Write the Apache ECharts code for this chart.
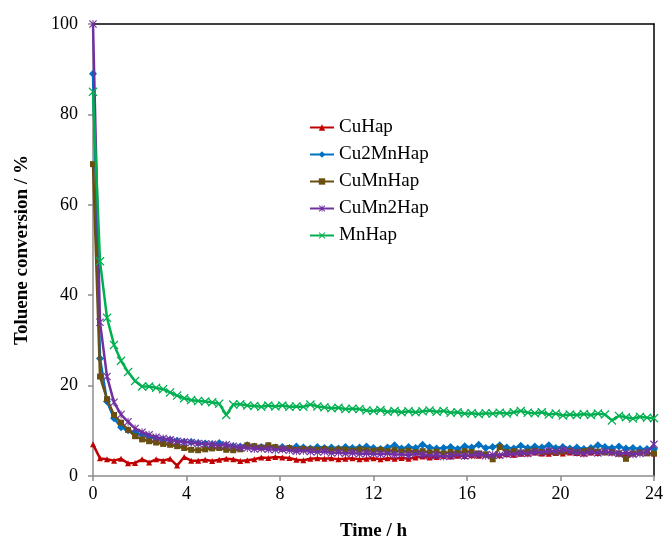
<!DOCTYPE html>
<html>
<head>
<meta charset="utf-8">
<script src="https://cdn.jsdelivr.net/npm/echarts@6/dist/echarts.min.js"></script>
<style>
  html, body { margin: 0; padding: 0; background: #ffffff; }
  #chart { width: 665px; height: 543px; }
</style>
</head>
<body>
<div id="chart"></div>
<script>
// Sampling times (h)
var hours = [
  0.0, 0.3, 0.6, 0.9, 1.2, 1.5, 1.8, 2.1, 2.4, 2.7,
  3.0, 3.3, 3.6, 3.9, 4.2, 4.5, 4.8, 5.1, 5.4, 5.7,
  6.0, 6.3, 6.6, 6.9, 7.2, 7.5, 7.8, 8.1, 8.4, 8.7,
  9.0, 9.3, 9.6, 9.9, 10.2, 10.5, 10.8, 11.1, 11.4, 11.7,
  12.0, 12.3, 12.6, 12.9, 13.2, 13.5, 13.8, 14.1, 14.4, 14.7,
  15.0, 15.3, 15.6, 15.9, 16.2, 16.5, 16.8, 17.1, 17.4, 17.7,
  18.0, 18.3, 18.6, 18.9, 19.2, 19.5, 19.8, 20.1, 20.4, 20.7,
  21.0, 21.3, 21.6, 21.9, 22.2, 22.5, 22.8, 23.1, 23.4, 23.7,
  24.0
];

// Toluene conversion (%) for each catalyst
var cuHap = [
  7.0, 3.9, 3.7, 3.4, 3.8, 2.8, 2.9, 3.7, 3.0, 3.7,
  3.4, 3.8, 2.3, 4.2, 3.4, 3.4, 3.6, 3.3, 3.6, 3.8,
  3.7, 3.3, 3.5, 3.7, 4.1, 4.0, 4.2, 4.1, 4.0, 3.6,
  3.5, 3.8, 3.9, 3.8, 3.9, 3.7, 3.8, 3.9, 3.7, 3.8,
  3.9, 3.7, 3.9, 3.8, 4.0, 3.8, 4.1, 4.3, 4.1, 4.2,
  4.4, 4.3, 4.5, 4.4, 4.6, 4.5, 4.7, 4.5, 4.6, 4.8,
  4.7, 4.9, 5.0, 5.2, 5.0, 4.9, 5.1, 5.0, 5.2, 5.1,
  5.0, 5.2, 5.1, 5.3, 5.2, 5.0, 5.1, 5.0, 5.2, 5.1,
  5.0
];
var cu2MnHap = [
  89, 26, 16.5, 12.8, 10.8, 10.1, 9.6, 9.2, 8.6, 8.3,
  8.1, 8.0, 7.8, 7.6, 7.5, 7.3, 7.2, 7.0, 7.3, 6.8,
  6.6, 6.5, 6.8, 6.5, 6.4, 6.6, 6.3, 6.4, 6.2, 6.5,
  6.3, 6.1, 6.4, 6.2, 6.3, 6.1, 6.4, 6.2, 6.3, 6.5,
  6.2, 6.0, 6.3, 6.8, 6.1, 6.4, 6.2, 6.9, 6.3, 6.1,
  6.2, 6.4, 6.0, 6.6, 6.3, 6.9, 6.2, 6.4, 6.8, 6.3,
  6.1, 6.7, 6.2, 6.5, 6.3, 6.8, 6.2, 6.4, 6.1, 6.3,
  6.0, 6.2, 6.8, 6.4, 6.2, 6.5, 6.1, 6.2, 6.0, 6.0,
  6.0
];
var cuMnHap = [
  69, 22, 17, 13.5, 11.8, 10.2, 8.8, 8.1, 7.7, 7.4,
  7.1, 6.9, 6.6, 6.2, 5.8, 5.7, 5.9, 6.1, 6.2, 5.8,
  5.7, 5.9, 6.8, 6.6, 6.3, 6.8, 6.4, 6.0, 6.2, 5.8,
  6.0, 5.9, 5.8, 6.0, 5.7, 5.9, 5.8, 5.6, 5.9, 5.7,
  5.6, 5.8, 5.5, 5.7, 5.4, 5.6, 5.3, 5.5, 5.2, 5.4,
  5.0, 5.3, 5.1, 5.5, 5.3, 5.0, 4.8, 3.7, 6.4, 5.3,
  5.5, 5.2, 5.4, 5.6, 5.3, 5.5, 5.2, 5.4, 5.6, 5.3,
  5.5, 5.7, 5.4, 5.2, 5.3, 5.0, 3.8, 5.0, 5.2, 5.0,
  5.0
];
var cuMn2Hap = [
  100, 34, 22, 16.3, 13.6, 12, 10.5, 9.7, 9.1, 8.6,
  8.3, 8.0, 7.7, 7.5, 7.4, 7.2, 7.1, 7.0, 6.8, 6.9,
  6.6, 6.3, 6.2, 6.0, 6.1, 5.9, 5.8, 5.9, 5.7, 5.5,
  5.6, 5.4, 5.3, 5.4, 5.1, 5.2, 5.0, 5.1, 4.9, 5.0,
  4.9, 4.8, 5.0, 4.7, 4.8, 4.6, 4.9, 4.7, 4.5, 4.6,
  4.3, 4.5, 4.7, 4.4, 4.6, 4.8, 4.5, 4.7, 4.6, 4.9,
  4.8, 5.1, 5.0, 5.3, 5.2, 5.6, 5.4, 5.8, 5.5, 5.2,
  5.0, 5.3, 5.1, 5.4, 5.2, 5.0, 5.1, 4.8, 5.0, 5.3,
  7.0
];
var mnHap = [
  85, 47.5, 35, 29, 25.5, 23, 21, 19.8, 19.8, 19.5,
  19.2, 18.5, 17.8, 17.2, 16.8, 16.6, 16.5, 16.3, 16.0, 13.5,
  15.8, 15.9, 15.6, 15.5, 15.3, 15.6, 15.4, 15.6, 15.3, 15.4,
  15.3, 15.8, 15.4, 15.2, 15.0, 15.1, 14.8, 14.9, 14.8, 14.5,
  14.4, 14.6, 14.2, 14.4, 14.1, 14.3, 14.1, 14.3, 14.5, 14.2,
  14.4, 14.0, 14.1, 13.8, 13.9, 13.7, 13.9, 13.8, 14.0, 13.8,
  14.1, 14.4, 14.0, 13.9, 14.1, 13.6, 13.8, 13.4, 13.6, 13.5,
  13.7, 13.5, 13.8, 13.6, 12.3, 13.3, 13.0, 12.7, 13.1, 12.9,
  12.8
];

var seriesNames = ['CuHap', 'Cu2MnHap', 'CuMnHap', 'CuMn2Hap', 'MnHap'];
var seriesValues = [cuHap, cu2MnHap, cuMnHap, cuMn2Hap, mnHap];
var seriesColors = ['#C00000', '#0070C0', '#6A5010', '#7030A0', '#00B050'];

var xTicks = [0, 4, 8, 12, 16, 20, 24];
var yTicks = [0, 20, 40, 60, 80, 100];

// Marker shapes: triangle, diamond, square, asterisk, cross
var CROSS = 'path://M0,1L1,0L5,4L9,0L10,1L6,5L10,9L9,10L5,6L1,10L0,9L4,5Z';
var STAR = 'path://M0,1L1,0L5,4L9,0L10,1L6,5L10,9L9,10L5,6L1,10L0,9L4,5Z M4.4,0L5.6,0L5.6,10L4.4,10Z';
var symbols = ['triangle', 'diamond', 'rect', STAR, CROSS];
var symbolSizes = [6, 8, 6, 8, 9];

var FONT = '"Liberation Serif", "Times New Roman", serif';

function pairs(xs, ys) {
  return xs.map(function (x, i) { return [x, ys[i]]; });
}

var series = seriesNames.map(function (name, i) {
  return {
    name: name,
    type: 'line',
    data: pairs(hours, seriesValues[i]),
    symbol: symbols[i],
    symbolSize: symbolSizes[i],
    showSymbol: true,
    lineStyle: { color: seriesColors[i], width: 2.5 },
    itemStyle: { color: seriesColors[i] },
    emphasis: { disabled: true },
    clip: false,
    z: 2 + i
  };
});

var chart = echarts.init(document.getElementById('chart'), null, { renderer: 'canvas' });
chart.setOption({
  animation: false,
  backgroundColor: '#ffffff',
  grid: { left: 93, right: 11, top: 24, bottom: 67, outerBoundsMode: 'none', containLabel: false },
  legend: {
    data: seriesNames,
    orient: 'vertical',
    left: 309,
    top: 118,
    padding: 0,
    itemWidth: 24,
    itemHeight: 8,
    itemGap: 8,
    textStyle: { fontFamily: FONT, fontSize: 19, color: '#000000' }
  },
  xAxis: [{
    type: 'value',
    min: xTicks[0],
    max: xTicks[xTicks.length - 1],
    interval: 4,
    name: 'Time / h',
    nameLocation: 'middle',
    nameGap: 46,
    nameTextStyle: { fontFamily: FONT, fontSize: 19, fontWeight: 'bold', color: '#000000' },
    axisLine: { show: true, lineStyle: { color: '#8c8c8c', width: 1.5 } },
    axisTick: { show: true, inside: false, length: 5, lineStyle: { color: '#8c8c8c', width: 1.5 } },
    axisLabel: { fontFamily: FONT, fontSize: 18, color: '#000000', margin: 9 },
    splitLine: { show: false }
  }, {
    type: 'value',
    position: 'top',
    min: 0, max: 24,
    axisLine: { show: true, onZero: false, lineStyle: { color: '#000000', width: 1.5 } },
    axisTick: { show: false },
    axisLabel: { show: false },
    splitLine: { show: false }
  }],
  yAxis: [{
    type: 'value',
    min: yTicks[0],
    max: yTicks[yTicks.length - 1],
    interval: 20,
    name: 'Toluene conversion / %',
    nameLocation: 'middle',
    nameRotate: 90,
    nameGap: 61,
    nameTextStyle: { fontFamily: FONT, fontSize: 19, fontWeight: 'bold', color: '#000000' },
    axisLine: { show: true, lineStyle: { color: '#8c8c8c', width: 1.5 } },
    axisTick: { show: true, inside: false, length: 5, lineStyle: { color: '#8c8c8c', width: 1.5 } },
    axisLabel: { fontFamily: FONT, fontSize: 18, color: '#000000', margin: 15 },
    splitLine: { show: false }
  }, {
    type: 'value',
    position: 'right',
    min: 0, max: 100,
    axisLine: { show: true, onZero: false, lineStyle: { color: '#000000', width: 1.5 } },
    axisTick: { show: false },
    axisLabel: { show: false },
    splitLine: { show: false }
  }],
  series: series
});
</script>
</body>
</html>
